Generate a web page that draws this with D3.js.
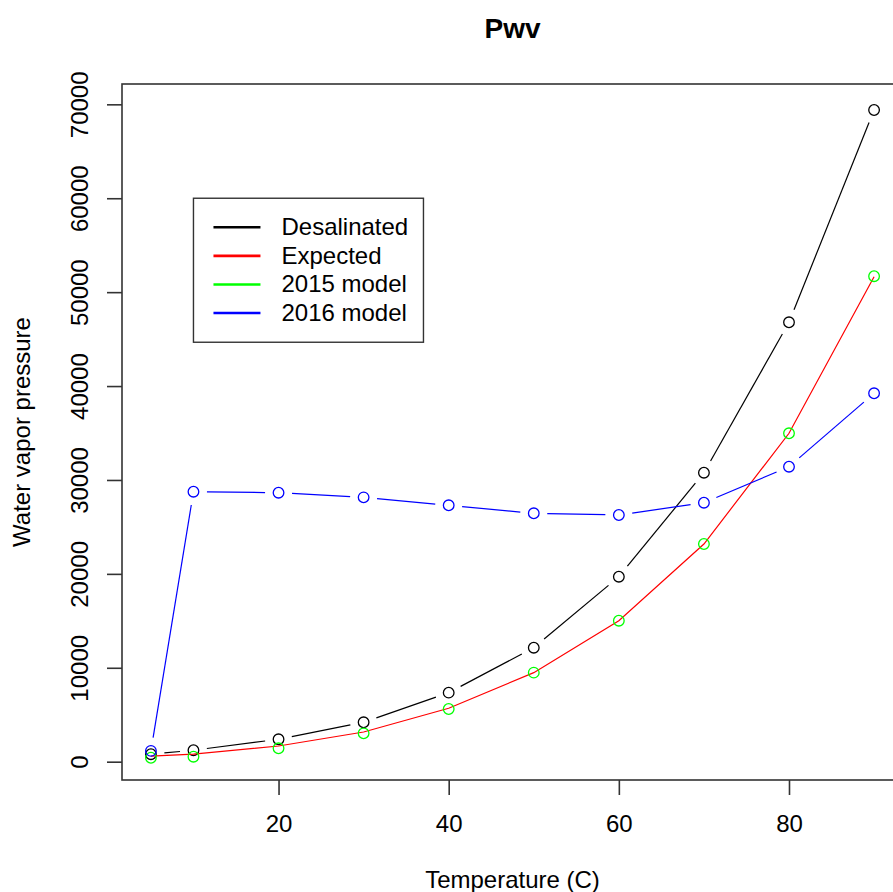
<!DOCTYPE html>
<html><head><meta charset="utf-8">
<script src="https://cdn.jsdelivr.net/npm/d3@7"></script>
<style>
body{margin:0;background:#fff}
text{font-family:"Liberation Sans",Arial,Helvetica,sans-serif;fill:#000}
</style>
</head><body><svg id="c" width="893" height="892"></svg>
<script>
// ---- data ----
const temps = [5, 10, 20, 30, 40, 50, 60, 70, 80, 90];
const desalinated = [800, 1220, 2385, 4195, 7350, 12140, 19700, 30775, 46790, 69395];
const expected = [600, 800, 1670, 3160, 5690, 9480, 15015, 23180, 34970, 51645];
const model2015 = [420, 530, 1425, 3020, 5610, 9480, 15015, 23180, 34970, 51700];
const model2016 = [1150, 28750, 28645, 28150, 27300, 26450, 26270, 27580, 31410, 39230];
const xTicks = [20, 40, 60, 80];
const yTicks = [0, 10000, 20000, 30000, 40000, 50000, 60000, 70000];
const seriesNames = ["Desalinated", "Expected", "2015 model", "2016 model"];
const seriesColors = ["#000000", "#ff0000", "#00ff00", "#0000ff"];
const chartTitle = "Pwv";
const xTitle = "Temperature (C)";
const yTitle = "Water vapor pressure";

// ---- layout ----
const svg = d3.select("#c");
const x = d3.scaleLinear().domain([1.6, 93.4]).range([122, 903]);
const y = d3.scaleLinear().domain([-1950, 72165]).range([780, 84]);
const FS = 24;
const gap = 13.5, R = 5.3;

// box
svg.append("rect").attr("x", x.range()[0]).attr("y", y.range()[1])
  .attr("width", x.range()[1] - x.range()[0]).attr("height", y.range()[0] - y.range()[1])
  .attr("fill", "none").attr("stroke", "#333").attr("stroke-width", 1.6);

// axes
const gx = svg.append("g").attr("transform", `translate(0,${y.range()[0]})`)
  .call(d3.axisBottom(x).tickValues(xTicks).tickSize(15).tickFormat(d3.format("d")));
gx.select(".domain").remove();
gx.selectAll("line").attr("stroke", "#333").attr("stroke-width", 1.6);
gx.selectAll("text").attr("y", 52).attr("dy", 0).attr("font-size", FS)
  .attr("font-family", null).attr("fill", "#111");

const gy = svg.append("g").attr("transform", `translate(${x.range()[0]},0)`)
  .call(d3.axisLeft(y).tickValues(yTicks).tickSize(15).tickFormat(d3.format("d")));
gy.select(".domain").remove();
gy.selectAll("line").attr("stroke", "#333").attr("stroke-width", 1.6);
gy.selectAll("text").attr("x", 0).attr("y", 0).attr("dy", 0)
  .attr("text-anchor", "middle").attr("transform", "translate(-34,0) rotate(-90)")
  .attr("font-size", FS).attr("font-family", null).attr("fill", "#111");

// titles
svg.append("text").attr("x", (x.range()[0] + x.range()[1]) / 2).attr("y", 38)
  .attr("text-anchor", "middle").attr("font-weight", "bold").attr("font-size", 28).text(chartTitle);
svg.append("text").attr("x", (x.range()[0] + x.range()[1]) / 2).attr("y", 888)
  .attr("text-anchor", "middle").attr("font-size", FS).text(xTitle);
svg.append("text").attr("transform", `translate(30,${(y.range()[0] + y.range()[1]) / 2}) rotate(-90)`)
  .attr("text-anchor", "middle").attr("font-size", FS).text(yTitle);

const line = d3.line().x(d => d[0]).y(d => d[1]);
function pts(vals) { return temps.map((t, i) => [x(t), y(vals[i])]); }

function drawTypeB(vals, color) {
  const p = pts(vals);
  const g = svg.append("g");
  for (let i = 0; i < p.length - 1; i++) {
    const [x0, y0] = p[i], [x1, y1] = p[i + 1];
    const L = Math.hypot(x1 - x0, y1 - y0);
    if (L <= 2 * gap) continue;
    const ux = (x1 - x0) / L, uy = (y1 - y0) / L;
    g.append("path").attr("d", line([[x0 + ux * gap, y0 + uy * gap], [x1 - ux * gap, y1 - uy * gap]]))
      .attr("fill", "none").attr("stroke", color).attr("stroke-width", 1.2);
  }
  drawPoints(vals, color);
}
function drawPoints(vals, color) {
  svg.append("g").selectAll("circle").data(pts(vals)).join("circle")
    .attr("cx", d => d[0]).attr("cy", d => d[1]).attr("r", R)
    .attr("fill", "none").attr("stroke", color).attr("stroke-width", 1.3);
}

drawTypeB(desalinated, seriesColors[0]);
svg.append("path").attr("d", line(pts(expected))).attr("fill", "none")
  .attr("stroke", seriesColors[1]).attr("stroke-width", 1.2);
drawPoints(model2015, seriesColors[2]);
drawTypeB(model2016, seriesColors[3]);

// legend
const lx = x(10), ly = y(60000);
const lg = svg.append("g");
lg.append("rect").attr("x", lx).attr("y", ly).attr("width", 230).attr("height", 144)
  .attr("fill", "#fff").attr("stroke", "#333").attr("stroke-width", 1.4);
seriesNames.forEach((name, i) => {
  const yy = ly + 29 + i * 28.6;
  lg.append("line").attr("x1", lx + 20).attr("x2", lx + 67).attr("y1", yy).attr("y2", yy)
    .attr("stroke", seriesColors[i]).attr("stroke-width", 2.6);
  lg.append("text").attr("x", lx + 88).attr("y", yy + 8).attr("font-size", FS).text(name);
});
</script>
</body></html>
